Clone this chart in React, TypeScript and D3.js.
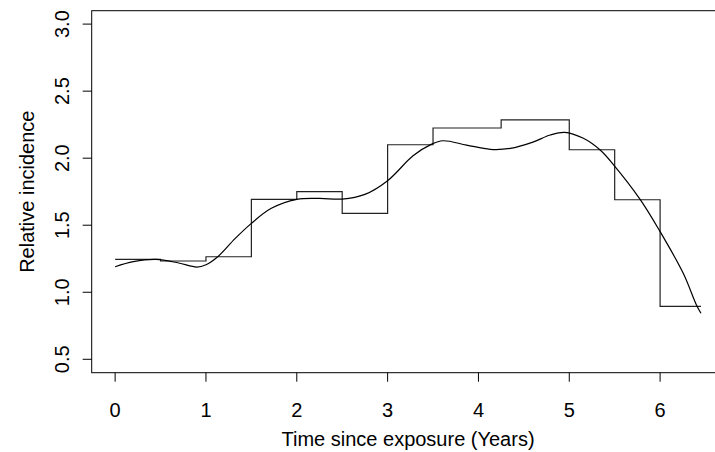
import React from "react";
import * as d3 from "d3";

// Step function (piecewise-constant relative incidence)
const stepBreaks = [0, 0.5, 1, 1.5, 2, 2.5, 3, 3.5, 4.25, 5, 5.5, 6, 6.45];
const stepValues = [1.245, 1.233, 1.265, 1.693, 1.75, 1.589, 2.1, 2.225, 2.285, 2.063, 1.69, 0.895];

// Smooth curve
const curveX = [0, 0.2, 0.45, 0.7, 0.9, 1.0, 1.13, 1.32, 1.5, 1.72, 2.0, 2.25, 2.5, 2.75, 3.0, 3.28, 3.48, 3.61, 3.87, 4.13, 4.35, 4.6, 4.79, 4.95, 5.15, 5.34, 5.49, 5.78, 5.99, 6.255, 6.4, 6.45];
const curveY = [1.19, 1.228, 1.245, 1.218, 1.188, 1.205, 1.265, 1.4, 1.514, 1.626, 1.693, 1.7, 1.695, 1.73, 1.832, 2.018, 2.103, 2.13, 2.098, 2.066, 2.073, 2.12, 2.173, 2.193, 2.15, 2.061, 1.949, 1.693, 1.464, 1.141, 0.905, 0.843];

const xTicks = [0, 1, 2, 3, 4, 5, 6];
const yTicks = [0.5, 1.0, 1.5, 2.0, 2.5, 3.0];
const xTitle = "Time since exposure (Years)";
const yTitle = "Relative incidence";

const W = 715;
const H = 452;
const left = 91.7;
const right = 724.4;
const top = 10.7;
const bottom = 372.7;
const font = "'Liberation Sans', Arial, Helvetica, sans-serif";
const fs = 20;

export default function App() {
  const xMin = 0, xMax = 6.45;
  const padX = (xMax - xMin) * 0.04;
  const x = d3.scaleLinear().domain([xMin - padX, xMax + padX]).range([left, right]);
  const y = d3.scaleLinear().domain([0.4, 3.1]).range([bottom, top]);

  const stepPts: [number, number][] = stepBreaks.map((b, i) => [b, stepValues[Math.min(i, stepValues.length - 1)]]);
  const stepPath = d3.line<[number, number]>().x(d => x(d[0])).y(d => y(d[1])).curve(d3.curveStepAfter)(stepPts) || "";

  const cPts: [number, number][] = curveX.map((v, i) => [v, curveY[i]]);
  const curvePath = d3.line<[number, number]>().x(d => x(d[0])).y(d => y(d[1])).curve(d3.curveCatmullRom.alpha(0.5))(cPts) || "";

  return (
    <svg width={W} height={H} style={{ position: "absolute", left: 0, top: 0, background: "#fff" }} fontFamily={font}>
      <rect x={0} y={0} width={W} height={H} fill="#fff" />
      <rect x={left} y={top} width={right - left} height={bottom - top} fill="none" stroke="#000" strokeWidth={1} />
      {xTicks.map(t => (
        <g key={"x" + t}>
          <line x1={x(t)} x2={x(t)} y1={bottom} y2={bottom + 9} stroke="#000" />
          <text x={x(t)} y={417} textAnchor="middle" fontSize={fs}>{t}</text>
        </g>
      ))}
      {yTicks.map(t => (
        <g key={"y" + t}>
          <line x1={left} x2={left - 9} y1={y(t)} y2={y(t)} stroke="#000" />
          <text transform={`translate(68.5,${y(t)}) rotate(-90)`} textAnchor="middle" fontSize={fs}>{t.toFixed(1)}</text>
        </g>
      ))}
      <text x={(left + right) / 2} y={446} textAnchor="middle" fontSize={fs}>{xTitle}</text>
      <text transform={`translate(33.5,${(top + bottom) / 2}) rotate(-90)`} textAnchor="middle" fontSize={fs}>{yTitle}</text>
      <path d={stepPath} fill="none" stroke="#222" strokeWidth={1.2} />
      <path d={curvePath} fill="none" stroke="#000" strokeWidth={1.2} />
    </svg>
  );
}
